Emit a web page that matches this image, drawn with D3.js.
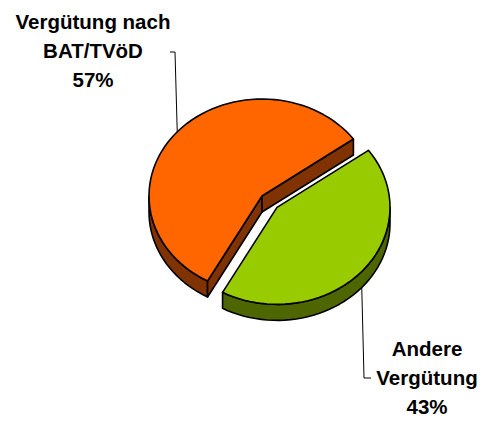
<!DOCTYPE html>
<html>
<head>
<meta charset="utf-8">
<script src="https://cdn.jsdelivr.net/npm/d3@7/dist/d3.min.js"></script>
<style>
  html, body { margin: 0; padding: 0; background: #fff; }
  svg { display: block; }
  text { font-family: "Liberation Sans", Arial, sans-serif; font-weight: bold; }
</style>
</head>
<body>
<svg id="chart" width="486" height="421"></svg>
<script>
// ---- data ----
const categories = ["Vergütung nach BAT/TVöD", "Andere Vergütung"];
const labelLines = [["Vergütung nach", "BAT/TVöD"], ["Andere", "Vergütung"]];
const values = [57, 43];
const topColors = ["#FF6600", "#99CC00"];
const sideColors = ["#803300", "#4D6600"];

// ---- geometry ----
const svg = d3.select("#chart");
const W = 486, H = 421;
const cx = 262, cy = 196;        // pie centre on screen (top face)
const rx = 113, ry = 97;         // projected radii
const depth = 16;                // side thickness
const explode = 20;              // explosion of the second slice
const toRad = Math.PI / 180;

const pie = d3.pie().sort(null).value(d => d)
  .startAngle(208.8 * toRad).endAngle((208.8 + 360) * toRad);
const arcs = pie(values);
// reorder angles so slice 0 (orange) covers the back-left, slice 1 the front-right
arcs.forEach((a, i) => {
  a.offset = i === 1 ? explode : 0;
  a.mid = (a.startAngle + a.endAngle) / 2;
  a.ox = a.offset * Math.sin(a.mid);
  a.oy = -a.offset * Math.cos(a.mid) * (ry / rx);
});

function pt(a, ang, r, bottom) {
  return [cx + a.ox + r * Math.sin(ang),
          cy + a.oy - r * Math.cos(ang) * (ry / rx) * (rx / rx) * 1 + (bottom ? depth : 0)];
}
function P(a, ang, bottom) {
  return [cx + a.ox + rx * Math.sin(ang),
          cy + a.oy - ry * Math.cos(ang) + (bottom ? depth : 0)];
}
function C(a, bottom) {
  return [cx + a.ox, cy + a.oy + (bottom ? depth : 0)];
}
const line = d3.line().curve(d3.curveLinear);
const N = 120;
function arcPts(a, a0, a1, bottom) {
  const pts = [];
  const n = Math.max(2, Math.ceil(N * Math.abs(a1 - a0) / (2 * Math.PI)));
  for (let k = 0; k <= n; k++) pts.push(P(a, a0 + (a1 - a0) * k / n, bottom));
  return pts;
}

const g = svg.append("g");
const stroke = "#000", sw = 1.6;

// visible wall interval (near half: 90°..270°, with wrap)
function wallRanges(a) {
  const res = [];
  for (let base = -2 * Math.PI; base <= 2 * Math.PI; base += 2 * Math.PI) {
    const lo = Math.max(a.startAngle, base + Math.PI / 2);
    const hi = Math.min(a.endAngle, base + 3 * Math.PI / 2);
    if (hi > lo) res.push([lo, hi]);
  }
  return res;
}
function faceVisible(ang, isStart) {
  // outward normal direction of the radial face
  const n = isStart ? ang - Math.PI / 2 : ang + Math.PI / 2;
  return Math.cos(n) < 0; // points toward viewer (near side)
}

arcs.forEach((a, i) => {
  // walls
  wallRanges(a).forEach(([lo, hi]) => {
    const pts = arcPts(a, lo, hi, false).concat(arcPts(a, hi, lo, true));
    g.append("path").attr("d", line(pts) + "Z")
      .attr("fill", sideColors[i]).attr("stroke", stroke).attr("stroke-width", sw)
      .attr("stroke-linejoin", "round");
  });
  // radial faces
  [[a.startAngle, true], [a.endAngle, false]].forEach(([ang, isStart]) => {
    if (!faceVisible(ang, isStart)) return;
    const pts = [C(a, false), P(a, ang, false), P(a, ang, true), C(a, true)];
    g.append("path").attr("d", line(pts) + "Z")
      .attr("fill", sideColors[i]).attr("stroke", stroke).attr("stroke-width", sw)
      .attr("stroke-linejoin", "round");
  });
  // top face
  const top = [C(a, false)].concat(arcPts(a, a.startAngle, a.endAngle, false));
  g.append("path").attr("d", line(top) + "Z")
    .attr("fill", topColors[i]).attr("stroke", stroke).attr("stroke-width", sw)
    .attr("stroke-linejoin", "round");
});

// ---- labels ----
const total = d3.sum(values);
const fmt = v => Math.round(v / total * 100) + "%";
const labelPos = [{x: 93, y: 29, dy: 29}, {x: 427, y: 356, dy: 29.2}];
arcs.forEach((a, i) => {
  const lp = labelPos[i];
  const lines = labelLines[i].concat([fmt(values[i])]);
  const t = svg.append("text").attr("text-anchor", "middle")
    .attr("font-size", 20.5).attr("fill", "#000");
  lines.forEach((s, k) => {
    t.append("tspan").attr("x", lp.x).attr("y", lp.y + k * lp.dy).text(s);
  });
});

// leader lines
const aO = arcs[0], aG = arcs[1];
const pO = P(aO, aO.mid, false);
const pG = P(aG, aG.mid, true);
svg.append("path")
  .attr("d", line([[170, 52], [175, 52], pO]))
  .attr("fill", "none").attr("stroke", "#000").attr("stroke-width", 1);
svg.append("path")
  .attr("d", line([pG, [364, 378], [371, 378]]))
  .attr("fill", "none").attr("stroke", "#000").attr("stroke-width", 1);
</script>
</body>
</html>
